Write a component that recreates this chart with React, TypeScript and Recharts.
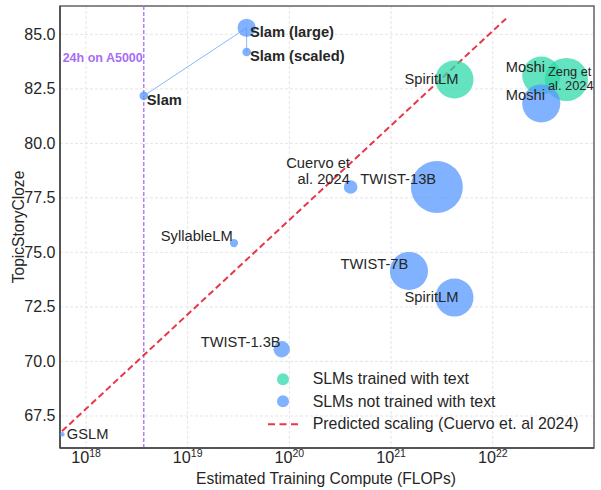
import React from "react";
import {
  ScatterChart,
  Scatter,
  XAxis,
  YAxis,
  ZAxis,
  CartesianGrid,
  ReferenceLine,
  ReferenceArea,
  Legend,
} from "recharts";

// models that were trained with text (green)
const withText = [
  { id: "spiritText", name: "SpiritLM", flops: 4.2e21, score: 82.93, params: 7 },
  { id: "moshiText", name: "Moshi", flops: 3.0e22, score: 83.11, params: 7 },
  { id: "zeng", name: "Zeng et al. 2024", flops: 5.3e22, score: 82.93, params: 9 },
];

// models not trained with text (blue)
const withoutText = [
  { id: "gslm", name: "GSLM", flops: 5.85e17, score: 66.66, params: 0.1 },
  { id: "slam", name: "Slam", flops: 3.7e18, score: 82.18, params: 0.36 },
  { id: "slamLarge", name: "Slam (large)", flops: 3.8e19, score: 85.3, params: 1.6 },
  { id: "slamScaled", name: "Slam (scaled)", flops: 3.8e19, score: 84.19, params: 0.36 },
  { id: "syllable", name: "SyllableLM", flops: 2.85e19, score: 75.43, params: 0.33 },
  { id: "twist1", name: "TWIST-1.3B", flops: 8.4e19, score: 70.56, params: 1.3 },
  { id: "cuervo", name: "Cuervo et al. 2024", flops: 4.0e20, score: 78.0, params: 0.9 },
  { id: "twist7", name: "TWIST-7B", flops: 1.5e21, score: 74.15, params: 7 },
  { id: "twist13", name: "TWIST-13B", flops: 2.82e21, score: 78.0, params: 13 },
  { id: "spiritNo", name: "SpiritLM", flops: 4.2e21, score: 72.93, params: 7 },
  { id: "moshiNo", name: "Moshi", flops: 3.0e22, score: 81.83, params: 7 },
];

// Cuervo et al. 2024 predicted scaling, end points
const predicted = [
  { flops: 5.8e17, score: 66.8 },
  { flops: 1.35e22, score: 85.72 },
];

const slamCompute = 3.7e18; // 24h on one A5000
const xTicks = [1e18, 1e19, 1e20, 1e21, 1e22];
const xExps = ["18", "19", "20", "21", "22"];
const yTicks = [67.5, 70, 72.5, 75, 77.5, 80, 82.5, 85];
const xDomain = [5.55e17, 9.9e22];
const yDomain = [66.03, 86.3];

const legendNames = [
  "SLMs trained with text",
  "SLMs not trained with text",
  "Predicted scaling (Cuervo et. al 2024)",
];

const FONT = "'Liberation Sans', Arial, Helvetica, sans-serif";
const GREEN = "#2fdaaa";
const BLUE = "#5698ff";
const RED = "#e8364a";
const PURPLE = "#a66ef5";
const TEXT = "#262626";

// where each annotation sits relative to its bubble
const labelLayout: Record<string, any> = {
  gslm: { dx: 4.5, dy: 0, anchor: "start" },
  slam: { dx: 3, dy: 4.5, anchor: "start", bold: true },
  slamLarge: { dx: 3.3, dy: 4.6, anchor: "start", bold: true },
  slamScaled: { dx: 3.3, dy: 4, anchor: "start", bold: true },
  syllable: { dx: -1.3, dy: -7.4, anchor: "end" },
  twist1: { dx: -1, dy: -7.7, anchor: "end" },
  cuervo: { dx: -0.7, dy: -23.7, anchor: "end", lines: ["Cuervo et", "al. 2024"], gap: 16 },
  twist7: { dx: -0.7, dy: -7.4, anchor: "end" },
  twist13: { dx: -0.7, dy: -7.7, anchor: "end" },
  spiritNo: { dx: 4, dy: -0.6, anchor: "end" },
  moshiNo: { dx: 3.7, dy: -8, anchor: "end" },
  spiritText: { dx: 4, dy: -0.7, anchor: "end" },
  moshiText: { dx: 3.7, dy: -8.3, anchor: "end" },
  zeng: { dx: -18.4, dy: -8.3, anchor: "start", lines: ["Zeng et", "al. 2024"], gap: 14.3, size: 12.8 },
};

const bubble = (color: string) => (props: any) => {
  if (props.cx == null) return <g />;
  const r = props.width ? props.width / 2 : Math.sqrt(Math.max(props.size || 0, 0) / Math.PI);
  return <circle cx={props.cx} cy={props.cy} r={r} fill={color} fillOpacity={0.75} />;
};

const noMark = () => <g />;

const LabelMark = (props: any) => {
  const p = props.payload ?? props;
  const cfg = labelLayout[p.id];
  if (!cfg || props.cx == null) return <g />;
  const lines: string[] = cfg.lines ?? [p.name];
  const x = props.cx + cfg.dx;
  return (
    <text
      x={x}
      y={props.cy + cfg.dy}
      textAnchor={cfg.anchor}
      dominantBaseline="central"
      fontSize={cfg.size ?? 14.7}
      fontWeight={cfg.bold ? 700 : 400}
      fontFamily={FONT}
      fill={TEXT}
    >
      {lines.map((l, i) => (
        <tspan key={i} x={x} dy={i === 0 ? 0 : cfg.gap}>
          {l}
        </tspan>
      ))}
    </text>
  );
};

const XTick = (props: any) => {
  const i = xTicks.indexOf(props.payload.value);
  return (
    <text x={props.x} y={props.y + 15} textAnchor="middle" fontFamily={FONT} fill={TEXT}>
      <tspan fontSize={16.2}>10</tspan>
      <tspan fontSize={10.5} dy={-6}>
        {xExps[i]}
      </tspan>
    </text>
  );
};

const YTick = (props: any) => (
  <text
    x={props.x - 4.5}
    y={props.y}
    textAnchor="end"
    dominantBaseline="central"
    fontSize={16}
    fontFamily={FONT}
    fill={TEXT}
  >
    {Number(props.payload.value).toFixed(1)}
  </text>
);

const XLabel = (props: any) => {
  const vb = props.viewBox || {};
  return (
    <text
      x={vb.x + vb.width / 2 - 1}
      y={vb.y + 30}
      textAnchor="middle"
      dominantBaseline="central"
      fontSize={15.6}
      fontFamily={FONT}
      fill={TEXT}
    >
      Estimated Training Compute (FLOPs)
    </text>
  );
};

const YLabel = (props: any) => {
  const vb = props.viewBox || {};
  const cx = 18.3;
  const cy = vb.y + vb.height / 2;
  return (
    <text
      x={cx}
      y={cy}
      transform={`rotate(-90, ${cx}, ${cy})`}
      textAnchor="middle"
      dominantBaseline="central"
      fontSize={15.6}
      fontFamily={FONT}
      fill={TEXT}
    >
      TopicStoryCloze
    </text>
  );
};

const GpuLabel = (props: any) => {
  const vb = props.viewBox || {};
  return (
    <text
      x={vb.x - 1}
      y={vb.y + 51.7}
      textAnchor="end"
      dominantBaseline="central"
      fontSize={12.5}
      fontWeight={700}
      fontFamily={FONT}
      fill={PURPLE}
    >
      24h on A5000
    </text>
  );
};

const LegendBox = () => (
  <div style={{ fontFamily: FONT, fontSize: 15.9, color: TEXT }}>
    {legendNames.map((name, i) => (
      <div key={name} style={{ display: "flex", alignItems: "center", height: 22.7 }}>
        <svg width={38} height={22.7}>
          {i < 2 ? (
            <circle cx={19} cy={11.35} r={6} fill={i === 0 ? GREEN : BLUE} fillOpacity={0.75} />
          ) : (
            <line x1={4} x2={34} y1={11.35} y2={11.35} stroke={RED} strokeWidth={2} strokeDasharray="7 4.5" />
          )}
        </svg>
        <span style={{ marginLeft: 10.7, whiteSpace: "nowrap" }}>{name}</span>
      </div>
    ))}
  </div>
);

const slamChain = ["slam", "slamLarge", "slamScaled"].map((id) => withoutText.find((d) => d.id === id)!);
const allPoints = [...withText, ...withoutText];

export default function App() {
  return (
    <div style={{ position: "absolute", left: 0, top: 0, width: 601, height: 490, background: "#fff" }}>
      <ScatterChart width={601} height={490} margin={{ top: 6, right: 7, left: 0, bottom: 0 }} style={{ fontFamily: FONT }}>
        <CartesianGrid stroke="#e2e2e2" strokeDasharray="3 2" strokeWidth={0.9} />
        <XAxis
          type="number"
          dataKey="flops"
          scale="log"
          domain={xDomain}
          allowDataOverflow
          ticks={xTicks}
          interval={0}
          tick={<XTick />}
          tickLine={false}
          tickSize={0}
          tickMargin={0}
          height={42}
          axisLine={{ stroke: "#444", strokeWidth: 1.5 }}
          label={<XLabel />}
        />
        <YAxis
          type="number"
          dataKey="score"
          domain={yDomain}
          allowDataOverflow
          ticks={yTicks}
          interval={0}
          tick={<YTick />}
          tickLine={false}
          tickSize={0}
          tickMargin={0}
          width={60}
          axisLine={{ stroke: "#444", strokeWidth: 1.5 }}
          label={<YLabel />}
        />
        <ZAxis type="number" dataKey="params" domain={[0, 13]} range={[0, 2119]} />
        <ReferenceLine
          x={slamCompute}
          stroke={PURPLE}
          strokeWidth={1.3}
          strokeDasharray="4 2"
          label={<GpuLabel />}
        />
        <Scatter
          data={predicted}
          shape={noMark}
          line={{ stroke: RED, strokeWidth: 2, strokeDasharray: "6.5 3.5" }}
          legendType="none"
          isAnimationActive={false}
        />
        <Scatter
          data={slamChain}
          shape={noMark}
          line={{ stroke: "#8db6ff", strokeWidth: 1 }}
          legendType="none"
          isAnimationActive={false}
        />
        <Scatter data={withText} shape={bubble(GREEN)} isAnimationActive={false} />
        <Scatter data={withoutText} shape={bubble(BLUE)} isAnimationActive={false} />
        <Scatter data={allPoints} shape={LabelMark} legendType="none" isAnimationActive={false} />
        <ReferenceArea
          x1={xDomain[0]}
          x2={xDomain[1]}
          y1={yDomain[0]}
          y2={yDomain[1]}
          fill="none"
          stroke="#666"
          strokeWidth={1.5}
          ifOverflow="visible"
        />
        <Legend
          layout="vertical"
          align="center"
          verticalAlign="middle"
          content={<LegendBox />}
          wrapperStyle={{ left: 264, top: 367.6, width: 330 }}
        />
      </ScatterChart>
    </div>
  );
}
